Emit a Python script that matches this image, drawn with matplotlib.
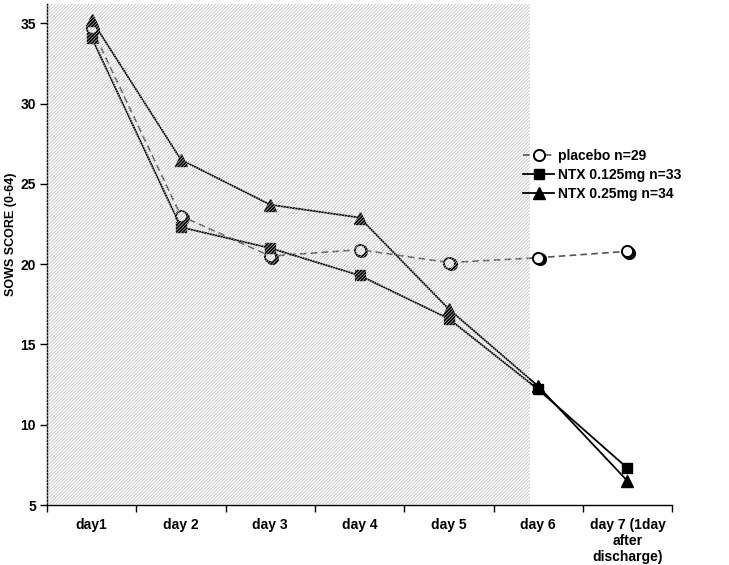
import numpy as np
import matplotlib
matplotlib.use("Agg")
import matplotlib.pyplot as plt
import matplotlib.patches as mpatches
from matplotlib.transforms import offset_copy


# data
days = ["day1", "day 2", "day 3", "day 4", "day 5", "day 6",
        "day 7 (1day\nafter\ndischarge)"]
placebo = [34.7, 23.0, 20.5, 20.9, 20.1, 20.4, 20.8]
ntx_125 = [34.1, 22.3, 21.0, 19.3, 16.6, 12.2, 7.3]
ntx_25 = [35.2, 26.5, 23.7, 22.9, 17.2, 12.4, 6.5]
labels = ["placebo n=29", "NTX 0.125mg n=33", "NTX 0.25mg n=34"]
yticks = [5, 10, 15, 20, 25, 30, 35]
shade_end = 4.91   # hospital stay shading stops just before day 6


plt.rcParams['font.family'] = ['Liberation Sans', 'DejaVu Sans']
plt.rcParams['font.weight'] = 'bold'
plt.rcParams['hatch.linewidth'] = 0.5

fig = plt.figure(figsize=(7.29, 5.65), dpi=100)
ax = fig.add_axes([0.0645, 0.106, 0.8575, 0.887])

x = np.arange(len(days))

# shadow under the open circles
shadow = offset_copy(ax.transData, fig=fig, x=1.2, y=-1.2, units='points')
ax.plot(x, placebo, 'o', color='black', markersize=8.5, transform=shadow,
        zorder=2)

l1, = ax.plot(x, placebo, '--', color='#555555', lw=1.2, dashes=(4, 2.5),
              marker='o', markersize=8, markerfacecolor='white',
              markeredgecolor='black', markeredgewidth=1.4, zorder=3)
l2, = ax.plot(x, ntx_125, '-', color='black', lw=1.3, marker='s',
              markersize=7, zorder=3)
l3, = ax.plot(x, ntx_25, '-', color='black', lw=1.3, marker='^',
              markersize=8, zorder=3)

ax.set_xlim(-0.5, len(days) - 0.5)
ax.set_ylim(5, 36.2)

# hatched overlay for the in-hospital days
hatch = mpatches.Rectangle((-0.5, 5), shade_end + 0.5, 31.2, facecolor='none',
                           edgecolor='#b8b8b8', hatch='/' * 10, lw=0,
                           zorder=4)
ax.add_patch(hatch)

ax.set_yticks(yticks)
ax.set_yticklabels([str(t) for t in yticks], fontsize=10, fontweight='bold')
ax.set_xticks(x)
ax.set_xticklabels(days, fontsize=10, fontweight='bold', va='top')
ax.set_xticks(np.arange(len(days) + 1) - 0.5, minor=True)
ax.tick_params(axis='x', which='major', length=0, pad=9)
ax.tick_params(axis='x', which='minor', length=5, width=1, direction='out')
ax.tick_params(axis='y', length=5, width=1, direction='out', pad=3)

for side in ['top', 'right']:
    ax.spines[side].set_visible(False)
ax.spines['left'].set_linewidth(1)
ax.spines['bottom'].set_linewidth(1)

ax.set_ylabel("SOWS SCORE (0-64)", fontsize=9, fontweight='bold')
ax.yaxis.set_label_coords(-0.048, 0.54)

leg = ax.legend([l1, l2, l3], labels, loc='upper left',
                bbox_to_anchor=(0.742, 0.735), frameon=False, fontsize=10,
                handlelength=2.2, labelspacing=0.35, handletextpad=0.3)
for t in leg.get_texts():
    t.set_fontweight('bold')

fig.savefig("out.png", dpi=100)
